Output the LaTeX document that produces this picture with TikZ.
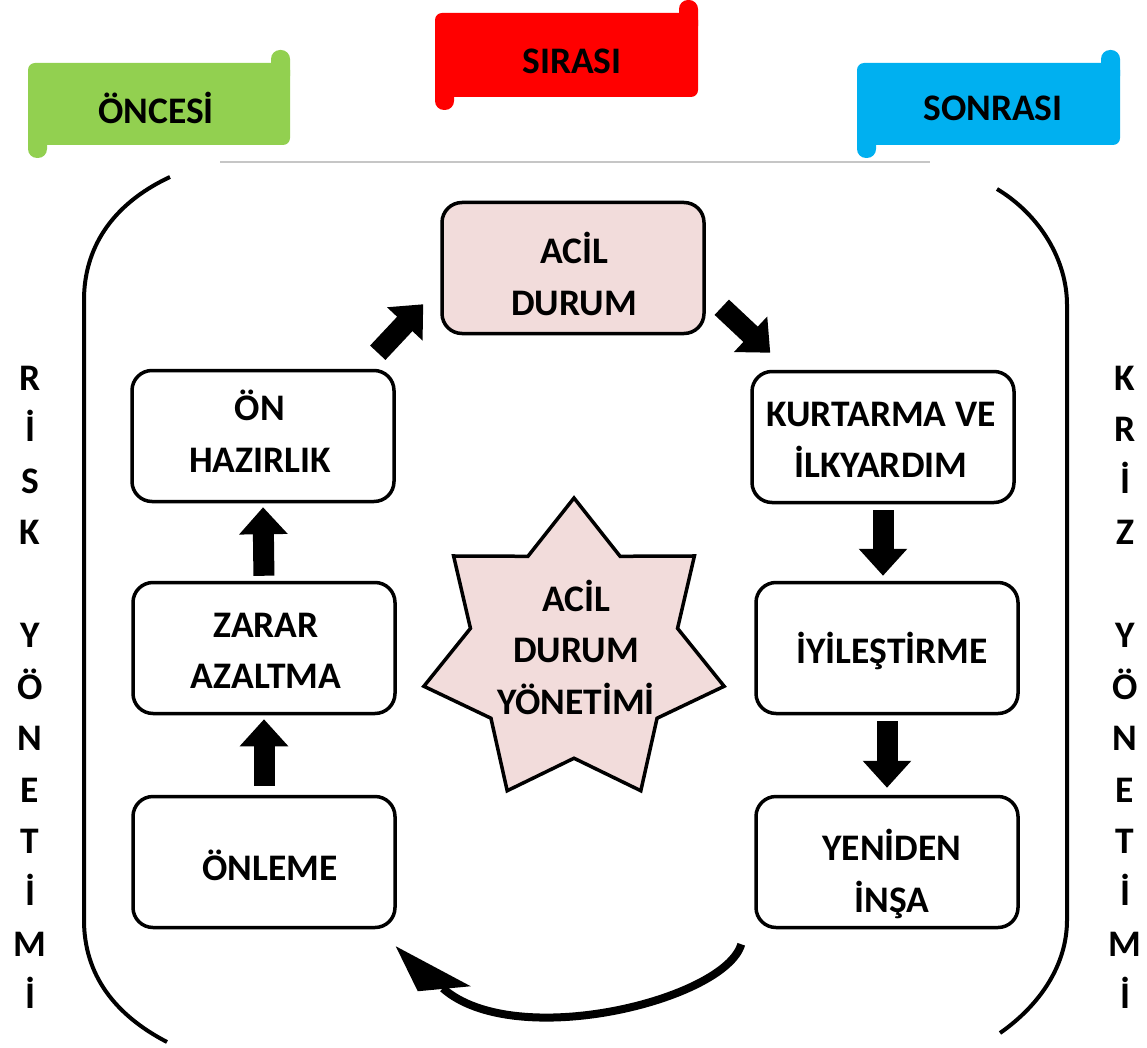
\documentclass[tikz,border=0pt]{standalone}
\usepackage{fontspec}
\setmainfont{Carlito}
\usepackage{xcolor}
\usepackage{tikz}
\usetikzlibrary{shapes.geometric, arrows.meta, calc, positioning}

\definecolor{acilpink}{HTML}{F2DCDB}
\definecolor{oncegreen}{HTML}{92D050}
\definecolor{sirared}{HTML}{FF0000}
\definecolor{sonrablue}{HTML}{00B0F0}

\newcommand{\diagfont}{\fontsize{37.5}{51.5}\selectfont\bfseries}

% scroll banner: x0, y0, x1, y1, colour
\newcommand{\scrollbanner}[5]{%
  \fill[#5,rounded corners=7pt] (#1,#2) rectangle (#3,#4);
  \fill[#5,rounded corners=9pt] (#1,#4-22) rectangle (#1+19,#4+13);
  \fill[#5,rounded corners=9pt] (#3-19,#2-13) rectangle (#3,#2+22);
}

\begin{document}
\begin{tikzpicture}[x=1pt,y=-1pt,
    box/.style={draw, line width=3.5pt, rounded corners=20pt, fill=white,
      minimum width=262pt, minimum height=131pt},
    boxtext/.style={align=center, font=\diagfont, inner sep=0pt},
    bannertext/.style={font=\diagfont, inner sep=0pt},
    sidecol/.style={align=center, font=\diagfont, inner sep=0pt},
    starbox/.style={star, star points=7, star point ratio=1.45, draw, line width=3.5pt,
      fill=acilpink, minimum size=308pt, inner sep=0pt},
    blockarrow/.style={line width=21pt, -{Triangle[length=27pt,width=47pt]}},
    loopline/.style={line width=8pt},
    bracket/.style={line width=4pt}]
  \useasboundingbox (0,0) rectangle (1147,1048);

  % Banners
  \scrollbanner{28}{63}{290}{145}{oncegreen}
  \scrollbanner{435}{13}{698}{97}{sirared}
  \scrollbanner{857}{63}{1120}{145}{sonrablue}
  \node[bannertext] (oncesi) at (156,108) {ÖNCESİ};
  \node[bannertext] (sirasi) at (572,61) {SIRASI};
  \node[bannertext] (sonrasi) at (993,108) {SONRASI};
  \draw[gray!45, line width=1.2pt] (220,162) -- (930,162);

  % Outer brackets
  \draw[bracket] (170,177) .. controls (110,205) and (84,250) .. (84,300)
    -- (84,920) .. controls (84,975) and (115,1015) .. (167,1042);
  \draw[bracket] (997,189) .. controls (1040,215) and (1067,260) .. (1067,305)
    -- (1067,920) .. controls (1067,965) and (1040,1005) .. (1000,1033);

  % Steps
  \node[box, fill=acilpink] (acil) at (573,268) {};
  \node[box] (onhaz) at (263,436) {};
  \node[box] (zarar) at (264,648) {};
  \node[box] (onleme) at (264,862) {};
  \node[box] (kurt) at (883,437) {};
  \node[box] (iyi) at (887,648) {};
  \node[box] (yeni) at (887,862) {};

  % Step texts
  \node[boxtext] (acil-t) at (574,274) {ACİL\\DURUM};
  \node[boxtext] (onhaz-t) at (260,431) {ÖN\\HAZIRLIK};
  \node[boxtext] (zarar-t) at (266,651) {ZARAR\\AZALTMA};
  \node[boxtext] (onleme-t) at (270,865) {ÖNLEME};
  \node[boxtext] (kurt-t) at (881,440) {KURTARMA VE\\İLKYARDIM};
  \node[boxtext] (iyi-t) at (892,651) {İYİLEŞTİRME};
  \node[boxtext] (yeni-t) at (892,874) {YENİDEN\\İNŞA};

  % Arrows between steps
  \draw[blockarrow, shorten <=9pt, shorten >=4pt] (onleme.north) -- (zarar.south);
  \draw[blockarrow, shorten <=5pt, shorten >=4pt] (zarar.north) -- (onhaz.south);
  \draw[blockarrow] ($(onhaz.north east)+(-18,-16)$) -- ($(acil.south west)+(-17,-31)$);
  \draw[blockarrow] ($(acil.south east)+(16,-28)$) -- ($(kurt.north west)+(20,-17)$);
  \draw[blockarrow, shorten <=6pt, shorten >=5pt] (kurt.south) -- (kurt.south |- iyi.north);
  \draw[blockarrow, shorten <=6pt, shorten >=7pt] (iyi.south) -- (iyi.south |- yeni.north);

  % Back to the start
  \coordinate (looptip) at ($(onleme.south east)+(-1,17)$);
  \coordinate (loopbend) at ($(looptip)+(47,42)$);
  \draw[loopline] ($(yeni.south west)+(-13,15)$) .. controls (725,1000) and (515,1052)
    .. (loopbend);
  \fill (looptip) -- ++(22,45) -- ++(53,-5) -- cycle;

  % Centre star
  \node[starbox] (star) at (574,652) {};
  \node[boxtext] (startext) at (576,647) {ACİL\\DURUM\\YÖNETİMİ};

  % Side labels
  \node[sidecol] (riskcol) at (30,687) {R\\İ\\S\\K\\[51.5pt]Y\\Ö\\N\\E\\T\\İ\\M\\İ};
  \node[sidecol] (krizcol) at (1125,687) {K\\R\\İ\\Z\\[51.5pt]Y\\Ö\\N\\E\\T\\İ\\M\\İ};
\end{tikzpicture}
\end{document}
